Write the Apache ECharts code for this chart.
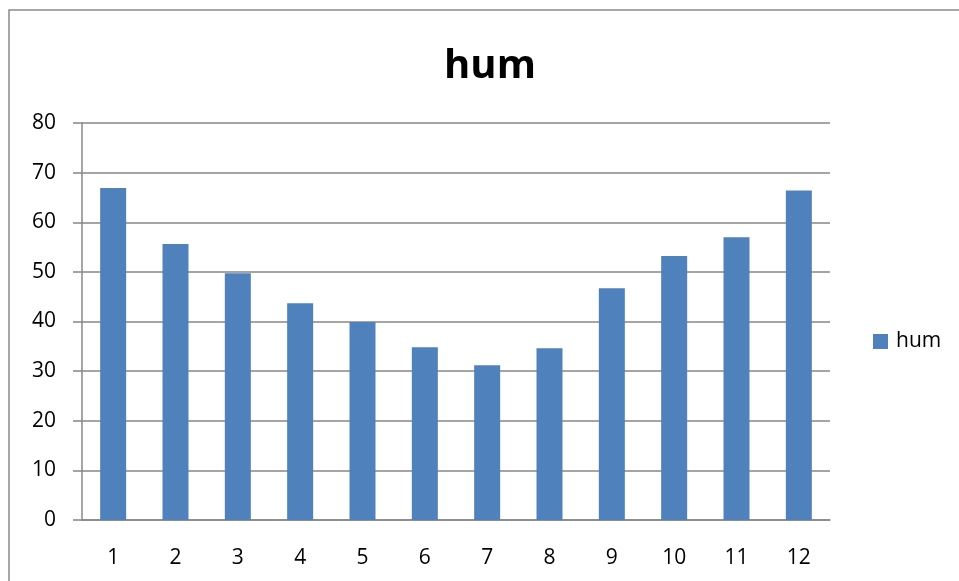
<!DOCTYPE html>
<html>
<head>
<meta charset="utf-8">
<script src="https://cdn.jsdelivr.net/npm/echarts@6/dist/echarts.min.js"></script>
<style>
html,body{margin:0;padding:0;background:#fff;}
#c{width:959px;height:581px;}
</style>
</head>
<body>
<div id="c"></div>
<script>
var categories = ['1','2','3','4','5','6','7','8','9','10','11','12'];
var humValues = [66.9, 55.6, 49.7, 43.7, 39.9, 34.8, 31.2, 34.6, 46.7, 53.2, 57.0, 66.4];
var seriesName = 'hum';
var chartTitle = 'hum';

var FONT = '"Open Sans", sans-serif';
var chart = echarts.init(document.getElementById('c'));
chart.setOption({
  animation: false,
  backgroundColor: '#fff',
  graphic: [{
    type: 'rect',
    shape: {x: 9, y: 10, width: 1200, height: 1000},
    style: {fill: 'none', stroke: '#8a8a8a', lineWidth: 1.5},
    silent: true, z: -1
  }],
  title: {
    text: chartTitle,
    left: 490, textAlign: 'center',
    top: 47,
    padding: 0,
    textStyle: {fontFamily: FONT, fontSize: 40, fontWeight: 'bold', color: '#000'}
  },
  legend: {
    data: [seriesName],
    orient: 'vertical',
    left: 873, top: 331,
    padding: 0,
    itemWidth: 15, itemHeight: 15, itemGap: 5,
    icon: 'rect',
    textStyle: {fontFamily: FONT, fontSize: 21, color: '#000', padding: [0,0,0,3]}
  },
  grid: {left: 82, right: 129, top: 123, bottom: 61, containLabel: false},
  xAxis: {
    type: 'category',
    data: categories,
    axisLine: {lineStyle: {color: '#878787', width: 1.5}},
    axisTick: {length: 9, lineStyle: {color: '#878787', width: 1.5}},
    axisLabel: {fontFamily: FONT, fontSize: 21, color: '#000', margin: 28}
  },
  yAxis: {
    type: 'value',
    min: 0, max: 80, interval: 10,
    axisLine: {show: true, lineStyle: {color: '#878787', width: 1.5}},
    axisTick: {show: true, length: 9, lineStyle: {color: '#878787', width: 1.5}},
    splitLine: {lineStyle: {color: '#878787', width: 1.5}},
    axisLabel: {fontFamily: FONT, fontSize: 21, color: '#000', margin: 26}
  },
  series: [{
    name: seriesName,
    type: 'bar',
    data: humValues,
    barWidth: 26,
    itemStyle: {color: '#4F81BD'}
  }]
});
</script>
</body>
</html>
